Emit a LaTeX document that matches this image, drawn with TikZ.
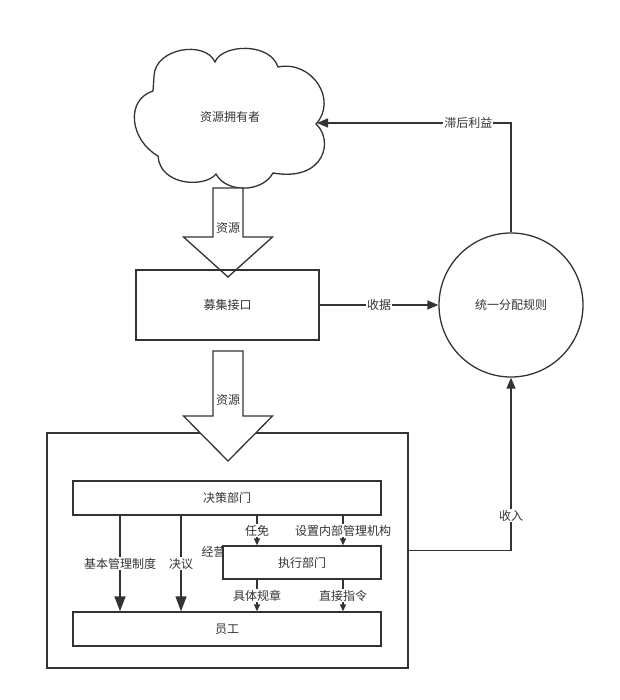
\documentclass[tikz,border=0pt]{standalone}
\usepackage{fontspec}
\setmainfont{Noto Sans CJK SC}
\usetikzlibrary{arrows.meta}

\definecolor{ink}{HTML}{333333}

\newcommand\resarrow[4]{%
  \draw[fill=white] (#1-15,#2) -- (#1+15,#2) -- (#1+15,#3) -- (#1+44.5,#3)
    -- (#1,#4) -- (#1-44.5,#3) -- (#1-15,#3) -- cycle;}

\begin{document}
\begin{tikzpicture}[x=1pt,y=-1pt,line width=1.3pt,draw=ink,text=ink,
    font=\fontsize{12}{14}\selectfont,
    box/.style={draw,fill=white,inner sep=0pt,minimum width=#1},
    conn/.style={-{Triangle[length=11pt,width=9pt]}},
    bigconn/.style={-{Triangle[length=15pt,width=11pt]}},
    smallconn/.style={-{Triangle[length=7pt,width=6pt]}},
    lbl/.style={fill=white,inner sep=1pt}]
    \useasboundingbox (0,0) rectangle (619,700);

    % the firm
    \node[draw,minimum width=361pt,minimum height=235pt] (firm) at (227.5,550.5) {};

    % cloud
    \draw (153,91) -- (154,76)
        .. controls (155,48) and (205,40) .. (215,62)
        .. controls (222,44) and (270,42) .. (278,67)
        .. controls (312,60) and (338,100) .. (316,124)
        .. controls (334,140) and (325,182) .. (273,173)
        .. controls (262,193) and (226,193) .. (216,174)
        .. controls (205,188) and (160,186) .. (158,156)
        .. controls (130,140) and (125,100) .. cycle;
    \node (owner) at (230,117) {资源拥有者};
    \coordinate (ownerR) at (317,123);

    \resarrow{228}{188}{237}{277}
    \node at (228,228) {资源};

    \node[box=183pt,minimum height=70pt,fill=none] (fund) at (227.5,305) {募集接口};
    \node[draw,circle,minimum size=144pt,inner sep=0pt] (rule) at (511,305) {统一分配规则};

    \resarrow{228}{351}{416}{461}
    \node at (228,400) {资源};

    \node[box=308pt,minimum height=34pt] (decide) at (227,498) {决策部门};
    \node[anchor=west,inner sep=0pt] (run) at (201,552) {经营};
    \node[box=158pt,minimum height=33pt] (exec) at (302,562.5) {执行部门};
    \node[box=308pt,minimum height=34pt] (staff) at (227,629) {员工};

    \draw[conn] (fund) -- node[lbl] {收据} (rule);
    \draw[conn] (rule.north) |- node[lbl,pos=0.61] {滞后利益} (ownerR);
    \draw[conn] (firm.east) -| node[lbl,pos=0.6] {收入} (rule.south);

    \draw[bigconn] ([xshift=-107pt]decide.south) -- node[lbl] {基本管理制度} ([xshift=-107pt]staff.north);
    \draw[bigconn] ([xshift=-46pt]decide.south) -- node[lbl] {决议} ([xshift=-46pt]staff.north);
    \draw[smallconn] ([xshift=-45pt]exec.north |- decide.south) -- node[lbl] {任免} ([xshift=-45pt]exec.north);
    \draw[smallconn] ([xshift=41pt]exec.north |- decide.south) -- node[lbl] {设置内部管理机构} ([xshift=41pt]exec.north);
    \draw[smallconn] ([xshift=-45pt]exec.south) -- node[lbl] {具体规章} ([xshift=-45pt]exec.south |- staff.north);
    \draw[smallconn] ([xshift=41pt]exec.south) -- node[lbl] {直接指令} ([xshift=41pt]exec.south |- staff.north);
\end{tikzpicture}
\end{document}
